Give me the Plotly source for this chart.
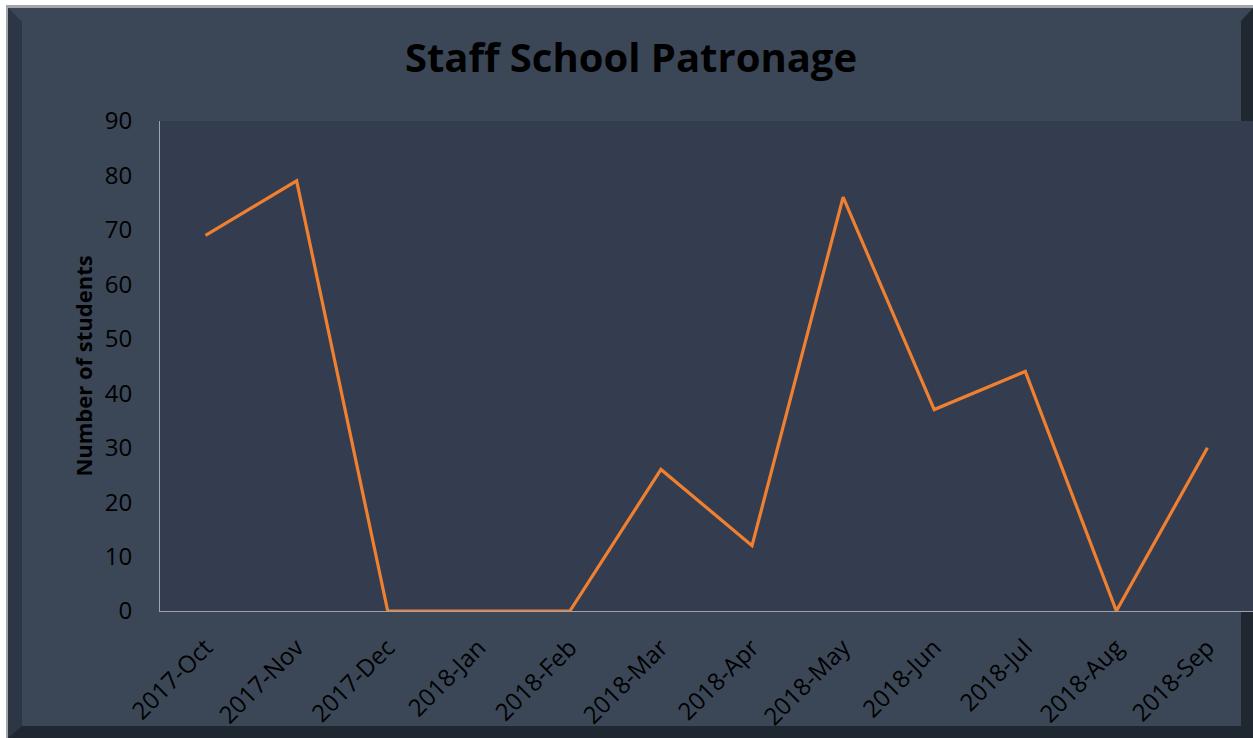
import plotly.graph_objects as go

months = ["2017-Oct", "2017-Nov", "2017-Dec", "2018-Jan", "2018-Feb", "2018-Mar",
          "2018-Apr", "2018-May", "2018-Jun", "2018-Jul", "2018-Aug", "2018-Sep"]
students = [69, 79, 0, 0, 0, 26, 12, 76, 37, 44, 0, 30]
y_ticks = [0, 10, 20, 30, 40, 50, 60, 70, 80, 90]

W, H = 1253, 738
L, R, T, B = 160, 1253, 121, 611

def px(x):
    return (x - L) / (R - L)

def py(y):
    return (B - y) / (B - T)

def path(points):
    return "M " + " L ".join(f"{px(x):.5f},{py(y):.5f}" for x, y in points) + " Z"

shapes = [
    dict(type="path", xref="paper", yref="paper", layer="below",
         path=path([(6, 5), (1253, 5), (1253, 738), (6, 738)]),
         fillcolor="#a3a6aa", line=dict(width=0)),
    dict(type="path", xref="paper", yref="paper", layer="below",
         path=path([(8, 8), (1253, 8), (1253, 738), (8, 738)]),
         fillcolor="#1f2731", line=dict(width=0)),
    dict(type="path", xref="paper", yref="paper", layer="below",
         path=path([(8, 8), (22, 22), (22, 726), (8, 738)]),
         fillcolor="#2d3645", line=dict(width=0)),
    dict(type="path", xref="paper", yref="paper", layer="below",
         path=path([(8, 8), (1253, 8), (1241, 21), (1241, 726), (22, 726), (22, 22)]),
         fillcolor="#3b4757", line=dict(width=0)),
    dict(type="path", xref="paper", yref="paper", layer="below",
         path=path([(L, T), (R, T), (R, B), (L, B)]),
         fillcolor="#333d4f", line=dict(width=0)),
]

fig = go.Figure()
fig.add_trace(go.Scatter(
    x=months, y=students, mode="lines",
    line=dict(color="#f08030", width=3.2),
    hoverinfo="x+y",
))

fig.update_layout(
    width=W, height=H,
    margin=dict(l=L, r=W - R, t=T, b=H - B, pad=0),
    paper_bgcolor="white",
    plot_bgcolor="rgba(0,0,0,0)",
    shapes=shapes,
    showlegend=False,
    font=dict(family="Open Sans", color="black"),
    title=dict(text="<b>Staff School Patronage</b>", x=631 / W, xanchor="center",
               xref="container", y=1 - 58 / H, yanchor="middle",
               font=dict(size=40, family="Open Sans", color="black")),
    xaxis=dict(
        type="category", range=[-0.5, 11.5], tickangle=-45,
        showgrid=False, zeroline=False, showline=True, linecolor="#a0a4aa", linewidth=1,
        ticks="", tickfont=dict(size=24, color="black"), ticklabelstandoff=12,
        fixedrange=True,
    ),
    yaxis=dict(
        range=[0, 90], tickvals=y_ticks, showgrid=False, zeroline=False,
        showline=True, linecolor="#a0a4aa", linewidth=1, ticks="",
        tickfont=dict(size=24, color="black"), ticklabelstandoff=22,
        title=dict(text="<b>Number of students</b>", font=dict(size=22, color="black"), standoff=6),
        fixedrange=True,
    ),
)

fig.write_html("out.html", config={"displayModeBar": False},
               post_script="document.body.style.margin='0';document.body.style.overflow='hidden';")
